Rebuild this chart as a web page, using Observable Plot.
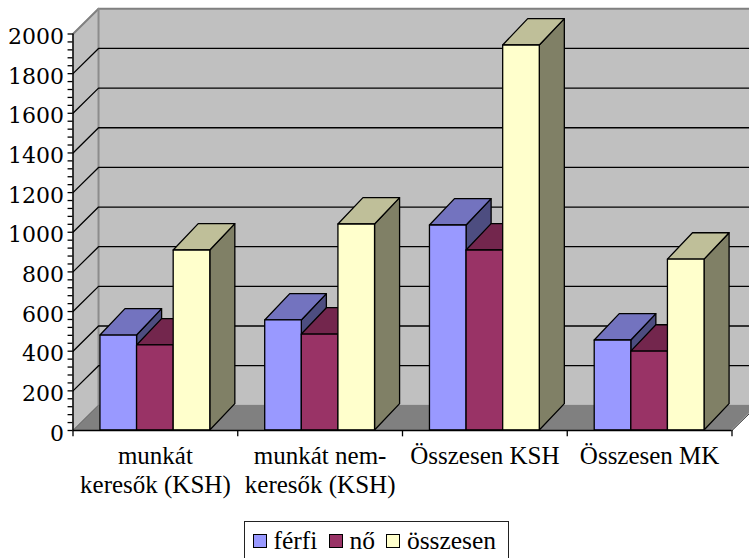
<!DOCTYPE html>
<html><head><meta charset="utf-8">
<script src="https://cdn.jsdelivr.net/npm/d3@7"></script>
<script src="https://cdn.jsdelivr.net/npm/@observablehq/plot@0.6"></script>
<style>
html,body{margin:0;padding:0;background:#fff;overflow:hidden}
#chart{position:relative;width:749px;height:558px;overflow:hidden}
#chart svg{display:block;background:#fff}
#legend{position:absolute;left:244px;top:520.5px;width:265px;height:50px;box-sizing:border-box;border:1.5px solid #222;
 font:25.5px/28px "Liberation Serif",serif;display:flex;align-items:flex-start;padding:5.5px 0 0 8px;color:#000;background:#fff}
#legend i{display:inline-block;width:14px;height:14px;box-sizing:border-box;border:1.5px solid #000;margin-right:6.5px}
#legend span{margin-right:11.5px;white-space:nowrap;display:inline-flex;align-items:center;height:28px}
</style></head><body><div id="chart"></div>
<script>
const categories = ["munkát\nkeresők (KSH)", "munkát nem-\nkeresők (KSH)", "Összesen KSH", "Összesen MK"];
const seriesNames = ["férfi", "nő", "összesen"];
const ferfi = [479, 555, 1034, 454];
const no = [429, 484, 908, 398];
const osszesen = [908, 1039, 1942, 862];
const seriesValues = [ferfi, no, osszesen];
const frontColors = ["#9999FF", "#993366", "#FFFFCC"];
const topColors = ["#7373BF", "#73264D", "#BFBF99"];
const sideColors = ["#4D4D80", "#4D1A33", "#808066"];
const yTicks = d3.range(0, 2001, 200);
const yMinor = d3.range(0, 2001, 40);
const xTicks = d3.range(0, 5);
const depthX = 0.155, depthY = 127, barDepthX = 0.152, barDepthY = 133, gap = 1 / 6, barW = 2 / 9;
const xEnd = categories.length;

const parallelY = (x1, x2, y1, y2, dy) => [ // vertical edges
  {x: x1, y1, y2}, {x: x2, y1: y1 + dy, y2: y2 + dy}];
const parallelX = (y, x1, x2, dx, dy) => [ // horizontal edges
  {y, x1, x2}, {y: y + dy, x1: x1 + dx, x2: x2 + dx}];

const wallGray = "#C0C0C0", floorGray = "#808080";
const marks = [
  Plot.rect([0], {x1: depthX, x2: xEnd + 1, y1: depthY, y2: 2000 + depthY, fill: wallGray}),
  Plot.areaY(parallelY(0, depthX, 0, 2000, depthY), {x: "x", y1: "y1", y2: "y2", fill: wallGray}),
  Plot.areaX(parallelX(0, 0, xEnd, depthX, depthY), {y: "y", x1: "x1", x2: "x2", fill: floorGray}),
  Plot.line([{x: 0, y: 2000}, {x: depthX, y: 2000 + depthY}, {x: xEnd + 1, y: 2000 + depthY}],
    {x: "x", y: "y", stroke: floorGray, strokeWidth: 2}),
  Plot.line([{x: depthX, y: depthY}, {x: depthX, y: 2000 + depthY}], {x: "x", y: "y", stroke: "#8c8c8c", strokeWidth: 2}),
  Plot.line([{x: 0, y: 0}, {x: depthX, y: depthY}], {x: "x", y: "y", stroke: "#6e6e6e", strokeWidth: 1}),
  ...yTicks.filter(t => t > 0 && t < 2000).map(t =>
    Plot.line([{x: 0, y: t}, {x: depthX, y: t + depthY}, {x: xEnd + 1, y: t + depthY}],
      {x: "x", y: "y", stroke: "#000", strokeWidth: 1.3})
  ),
  Plot.line([{x: xEnd, y: 0}, {x: xEnd + depthX, y: depthY}], {x: "x", y: "y", stroke: "#000", strokeWidth: 1}),
];

categories.forEach((c, i) => {
  seriesValues.forEach((vals, s) => {
    const v = vals[i];
    const x1 = i + gap + s * barW, x2 = x1 + barW;
    const st = {stroke: "#000", strokeWidth: 1.3, strokeLinejoin: "round"};
    marks.push(
      Plot.areaY(parallelY(x2, x2 + barDepthX, 0, v, barDepthY), {x: "x", y1: "y1", y2: "y2", fill: sideColors[s], ...st}),
      Plot.areaX(parallelX(v, x1, x2, barDepthX, barDepthY), {y: "y", x1: "x1", x2: "x2", fill: topColors[s], ...st}),
      Plot.rect([v], {x1: x1, x2: x2, y1: 0, y2: d => d, fill: frontColors[s], inset: 0, ...st})
    );
  });
});

marks.push(
  Plot.ruleY([0], {x1: 0, x2: xEnd, stroke: "#000", strokeWidth: 1.5}),
  Plot.ruleX([0], {y1: 0, y2: 2000, stroke: "#000", strokeWidth: 1.5}),
  Plot.ruleY(yMinor, {x1: -0.03, x2: 0, stroke: "#000", strokeWidth: 1.3}),
  Plot.ruleX(xTicks, {y1: -32, y2: 0, stroke: "#000", strokeWidth: 1.3}),
  Plot.text(yTicks, {x: 0, y: d => d, text: d => String(d), textAnchor: "end", dx: -9, dy: 3,
    fontSize: 22, fontFamily: "DejaVu Serif", fill: "#000"}),
  Plot.text(categories, {x: (d, i) => i + 0.5, y: 0, text: d => d, lineAnchor: "top", dy: 13,
    fontSize: 25, fontFamily: "Liberation Serif", lineHeight: 1.16, fill: "#000"})
);

const plot = Plot.plot({
  width: 749, height: 558,
  marginLeft: 72.5, marginRight: 17.5, marginTop: 33.5, marginBottom: 128,
  x: {type: "linear", domain: [0, xEnd], axis: null},
  y: {type: "linear", domain: [0, 2000], axis: null},
  style: {background: "#fff", overflow: "hidden"},
  marks
});
const chart = document.getElementById("chart");
chart.appendChild(plot);

const legend = document.createElement("div");
legend.id = "legend";
seriesNames.forEach((n, s) => {
  const span = document.createElement("span");
  const sw = document.createElement("i");
  sw.style.background = frontColors[s];
  span.appendChild(sw);
  span.appendChild(document.createTextNode(n));
  legend.appendChild(span);
});
chart.appendChild(legend);
</script></body></html>
